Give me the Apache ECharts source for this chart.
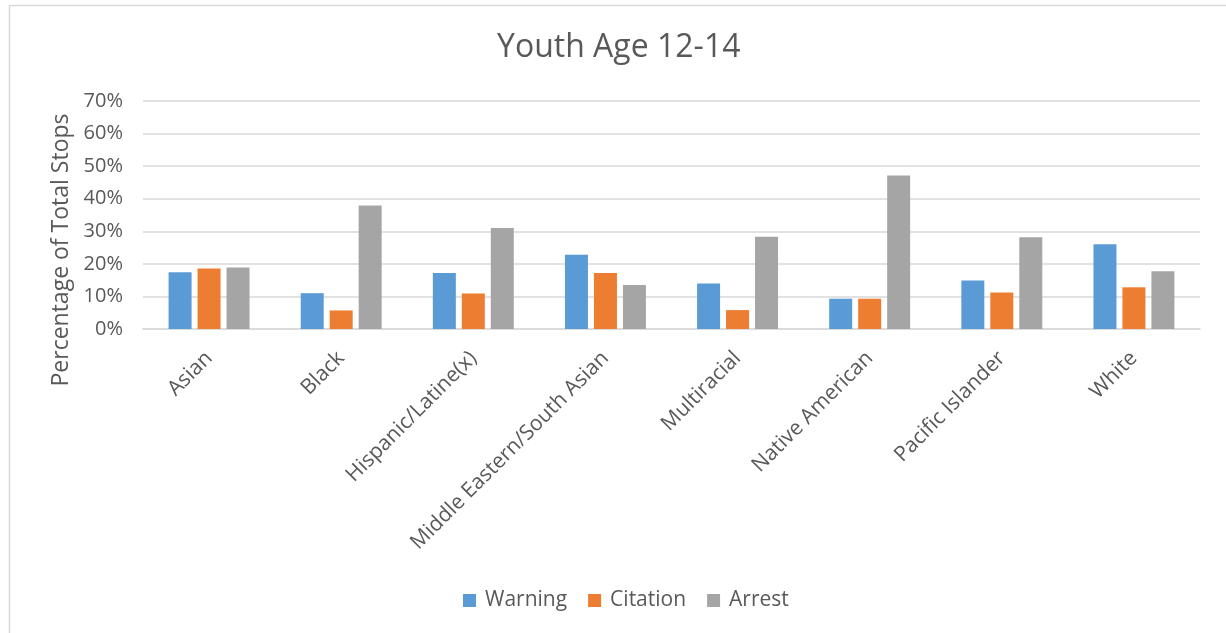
<!DOCTYPE html>
<html>
<head>
<meta charset="utf-8">
<script src="https://cdn.jsdelivr.net/npm/echarts@6/dist/echarts.min.js"></script>
<style>
html,body{margin:0;padding:0;background:#fff;}
#chart{width:1226px;height:633px;}
</style>
</head>
<body>
<div id="chart"></div>
<script>
const categories = ["Asian","Black","Hispanic/Latine(x)","Middle Eastern/South Asian","Multiracial","Native American","Pacific Islander","White"];
const warning  = [17.4, 11.0, 17.2, 22.8, 14.0, 9.3, 14.9, 26.0];
const citation = [18.6, 5.7, 10.9, 17.2, 5.8, 9.3, 11.2, 12.8];
const arrest   = [18.9, 37.9, 31.0, 13.5, 28.3, 47.1, 28.2, 17.7];
const seriesNames = ["Warning","Citation","Arrest"];
const colors = ["#5b9bd5","#ed7d31","#a5a5a5"];

const FONT = "'Open Sans', Lato, sans-serif";
const chart = echarts.init(document.getElementById('chart'), null, {renderer:'canvas'});
const mk = (name, data, i) => ({
  name, type:'bar', data,
  barWidth: 23, barGap: '26%',
  itemStyle:{color: colors[i]}
});
chart.setOption({
  animation:false,
  backgroundColor:'#fff',
  graphic:[{type:'rect', left:7, top:3, shape:{width:1240, height:650}, style:{fill:'none', stroke:'#d9d9d9', lineWidth:1.5}, silent:true, z:-1}],
  title:{text:'Youth Age 12-14', left:497, top:32, padding:0, textStyle:{fontFamily:FONT, fontSize:32, fontWeight:'normal', color:'#595959'}},
  legend:{data:seriesNames, bottom:17, left:458, itemWidth:13, itemHeight:13, itemGap:21, icon:'rect',
    textStyle:{fontFamily:FONT, fontSize:21, color:'#595959', padding:[0,0,0,4]}},
  grid:{left:143, right:26, top:101, bottom:304, containLabel:false},
  xAxis:{type:'category', data:categories,
    axisLine:{lineStyle:{color:'#d9d9d9', width:1.5}}, axisTick:{show:false},
    axisLabel:{rotate:45, interval:0, fontFamily:FONT, fontSize:21, color:'#595959', margin:26}},
  yAxis:{type:'value', min:0, max:70, interval:10,
    name:'Percentage of Total Stops', nameLocation:'middle', nameGap:68, nameRotate:90,
    nameTextStyle:{fontFamily:FONT, fontSize:23, color:'#595959', padding:[0,0,0,-70]},
    axisLine:{show:false}, axisTick:{show:false},
    axisLabel:{formatter: v => v + '%', fontFamily:FONT, fontSize:20, color:'#595959', margin:20},
    splitLine:{lineStyle:{color:'#d9d9d9', width:1.5}}},
  series:[mk(seriesNames[0], warning, 0), mk(seriesNames[1], citation, 1), mk(seriesNames[2], arrest, 2)]
});
</script>
</body>
</html>
